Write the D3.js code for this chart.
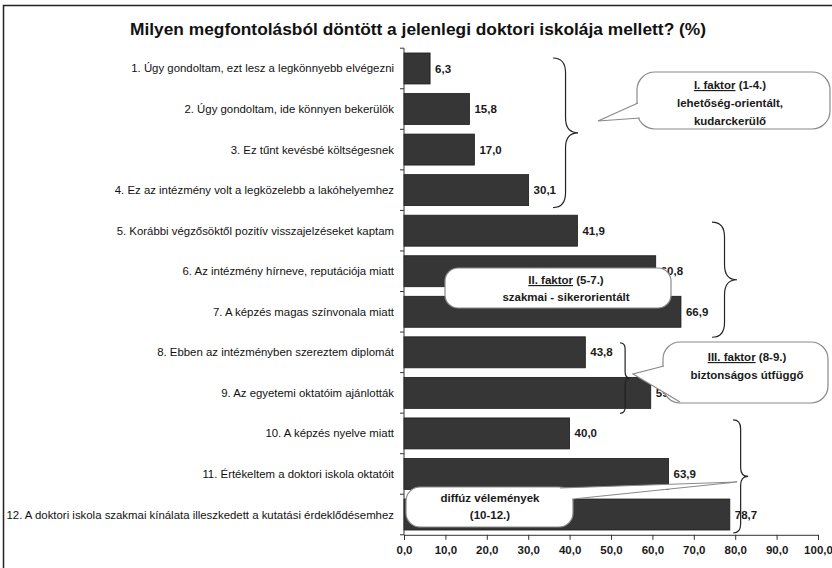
<!DOCTYPE html>
<html>
<head>
<meta charset="utf-8">
<script src="https://cdn.jsdelivr.net/npm/d3@7"></script>
<style>
  body { margin: 0; background: #fff; }
  svg { font-family: "Liberation Sans", Arial, sans-serif; }
</style>
</head>
<body>
<div id="chart"></div>
<script>
(function() {
  var width = 832, height = 568;

  var title = "Milyen megfontolásból döntött a jelenlegi doktori iskolája mellett? (%)";

  var categories = [
    "1. Úgy gondoltam, ezt lesz a legkönnyebb elvégezni",
    "2. Úgy gondoltam, ide könnyen bekerülök",
    "3. Ez tűnt kevésbé költségesnek",
    "4. Ez az intézmény volt a legközelebb a lakóhelyemhez",
    "5. Korábbi végzősöktől pozitív visszajelzéseket kaptam",
    "6. Az intézmény hírneve, reputációja miatt",
    "7. A képzés magas színvonala miatt",
    "8. Ebben az intézményben szereztem diplomát",
    "9. Az egyetemi oktatóim ajánlották",
    "10. A képzés nyelve miatt",
    "11. Értékeltem a doktori iskola oktatóit",
    "12. A doktori iskola szakmai kínálata illeszkedett a kutatási érdeklődésemhez"
  ];

  var values = [6.3, 15.8, 17.0, 30.1, 41.9, 60.8, 66.9, 43.8, 59.6, 40.0, 63.9, 78.7];

  var tickValues = [0, 10, 20, 30, 40, 50, 60, 70, 80, 90, 100];

  // factor groups (index of first and last item)
  var groupFrom = [0, 4, 7, 9];
  var groupTo = [3, 6, 8, 11];
  var groupTitles = ["I. faktor", "II. faktor", "III. faktor", ""];
  var groupRanges = [" (1-4.)", " (5-7.)", " (8-9.)", ""];
  var groupLines = [
    ["lehetőség-orientált,", "kudarckerülő"],
    ["szakmai - sikerorientált"],
    ["biztonságos útfüggő"],
    ["diffúz vélemények", "(10-12.)"]
  ];

  var fmt = function(v) { return d3.format(".1f")(v).replace(".", ","); };

  var svg = d3.select("#chart")
    .append("svg")
    .attr("width", width)
    .attr("height", height);

  // frame
  svg.append("path")
    .attr("d", "M3.5," + height + "V5.5H" + width)
    .attr("fill", "none")
    .attr("stroke", "#222")
    .attr("stroke-width", 1.5);

  svg.append("text")
    .attr("x", 418)
    .attr("y", 35)
    .attr("text-anchor", "middle")
    .attr("font-size", "17px")
    .attr("font-weight", "bold")
    .attr("textLength", 576)
    .attr("lengthAdjust", "spacingAndGlyphs")
    .attr("fill", "#111")
    .text(title);

  var x = d3.scaleLinear().domain([0, 100]).range([404, 818]);
  var y = d3.scaleBand().domain(categories).range([48, 535])
    .paddingInner(0.236).paddingOuter(0.123);

  // bars
  svg.selectAll("rect.bar")
    .data(values)
    .enter().append("rect")
    .attr("class", "bar")
    .attr("x", x(0))
    .attr("y", function(d, i) { return y(categories[i]); })
    .attr("width", function(d) { return x(d) - x(0); })
    .attr("height", y.bandwidth())
    .attr("fill", "#363636")
    .attr("stroke", "#1a1a1a")
    .attr("stroke-width", 0.8);

  // category labels
  svg.selectAll("text.cat")
    .data(categories)
    .enter().append("text")
    .attr("class", "cat")
    .attr("x", 394)
    .attr("y", function(d) { return y(d) + y.bandwidth() / 2; })
    .attr("dy", ".35em")
    .attr("text-anchor", "end")
    .attr("font-size", "11.4px")
    .attr("fill", "#111")
    .text(function(d) { return d; });

  // value labels
  svg.selectAll("text.val")
    .data(values)
    .enter().append("text")
    .attr("class", "val")
    .attr("x", function(d) { return x(d) + 5; })
    .attr("y", function(d, i) { return y(categories[i]) + y.bandwidth() / 2; })
    .attr("dy", ".35em")
    .attr("font-size", "11.5px")
    .attr("font-weight", "bold")
    .attr("fill", "#1a1a1a")
    .text(fmt);

  // y axis line + ticks at band boundaries
  var gap = (y.step() - y.bandwidth()) / 2;
  var bounds = categories.map(function(c) { return y(c) - gap; });
  bounds.push(y(categories[categories.length - 1]) + y.bandwidth() + gap);
  svg.append("line")
    .attr("x1", x(0)).attr("x2", x(0))
    .attr("y1", bounds[0]).attr("y2", bounds[bounds.length - 1])
    .attr("stroke", "#333");
  svg.selectAll("line.ytick")
    .data(bounds)
    .enter().append("line")
    .attr("class", "ytick")
    .attr("x1", x(0) - 4).attr("x2", x(0))
    .attr("y1", function(d) { return d; })
    .attr("y2", function(d) { return d; })
    .attr("stroke", "#333");

  // x axis
  var xAxis = d3.axisBottom(x)
    .tickValues(tickValues)
    .tickFormat(fmt)
    .tickSizeOuter(0)
    .tickSize(5)
    .tickPadding(6);
  var gx = svg.append("g")
    .attr("transform", "translate(0," + bounds[bounds.length - 1] + ")")
    .call(xAxis);
  gx.select(".domain").attr("stroke", "#333");
  gx.selectAll(".tick line").attr("stroke", "#333");
  gx.selectAll(".tick text")
    .attr("font-size", "11.5px")
    .attr("font-weight", "bold")
    .attr("font-family", "Liberation Sans, Arial, sans-serif")
    .attr("fill", "#1a1a1a");

  // curly braces
  function brace(x0, y0, y1, w) {
    var m = (y0 + y1) / 2, h = w / 2, q = Math.min(w * 0.6, (y1 - y0) / 6);
    return "M" + x0 + "," + y0 +
      "Q" + (x0 + h) + "," + y0 + " " + (x0 + h) + "," + (y0 + q) +
      "L" + (x0 + h) + "," + (m - q) +
      "Q" + (x0 + h) + "," + m + " " + (x0 + w) + "," + m +
      "Q" + (x0 + h) + "," + m + " " + (x0 + h) + "," + (m + q) +
      "L" + (x0 + h) + "," + (y1 - q) +
      "Q" + (x0 + h) + "," + y1 + " " + x0 + "," + y1;
  }
  var braceAt = [36, 74.4, 52.2, 79.5];
  var braceW = [25, 25, 10, 15];
  var braceTop = [5, 7, 6, 2];
  var braceBottom = [2, 10, 5, 3];
  groupFrom.forEach(function(f, i) {
    var y0 = y(categories[f]) + braceTop[i];
    var y1 = y(categories[groupTo[i]]) + y.bandwidth() + braceBottom[i];
    svg.append("path")
      .attr("d", brace(x(braceAt[i]), y0, y1, braceW[i]))
      .attr("fill", "none")
      .attr("stroke", "#222")
      .attr("stroke-width", 1.2);
  });

  // speech bubbles
  var bubbles = [
    { x0: 637, y0: 72, w: 193, h: 57, r: 18, tail: [[638, 103], [598, 121], [640, 118]], cx: 730, ty: [85, 103, 121] },
    { x0: 445, y0: 268, w: 226, h: 40, r: 13, tail: null, cx: 566, ty: [280, 297] },
    { x0: 663, y0: 342, w: 165, h: 61, r: 17, tail: [[664, 366], [633, 374], [680, 402]], cx: 747, ty: [357, 375] },
    { x0: 406, y0: 487, w: 167, h: 40, r: 14, tail: [[560, 488], [737, 482], [573, 499]], cx: 490, ty: [498, 515] }
  ];

  bubbles.forEach(function(b, i) {
    var g = svg.append("g");
    g.append("rect")
      .attr("x", b.x0).attr("y", b.y0)
      .attr("width", b.w).attr("height", b.h)
      .attr("rx", b.r).attr("ry", b.r)
      .attr("fill", "#fff")
      .attr("stroke", "#8a8a8a")
      .attr("stroke-width", 1.2);
    if (b.tail) {
      g.append("path")
        .attr("d", "M" + b.tail.join("L") + "Z")
        .attr("fill", "#fff");
      g.append("path")
        .attr("d", "M" + b.tail.join("L"))
        .attr("fill", "none")
        .attr("stroke", "#8a8a8a")
        .attr("stroke-width", 1.2);
    }
    var lines = [];
    if (groupTitles[i]) lines.push(null);
    lines = lines.concat(groupLines[i]);
    lines.forEach(function(l, j) {
      var t = g.append("text")
        .attr("x", b.cx)
        .attr("y", b.ty[j])
        .attr("dy", ".35em")
        .attr("text-anchor", "middle")
        .attr("font-size", "11.5px")
        .attr("font-weight", "bold")
        .attr("fill", "#1a1a1a");
      if (l === null) {
        t.append("tspan").attr("text-decoration", "underline").text(groupTitles[i]);
        t.append("tspan").text(groupRanges[i]);
      } else {
        t.text(l);
      }
    });
  });
})();
</script>
</body>
</html>
